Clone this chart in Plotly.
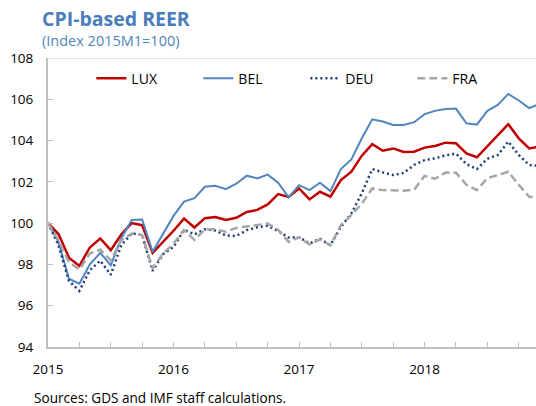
import plotly.graph_objects as go

# ---- data ----
months = [f"{y}M{m}" for y in range(2015, 2019) for m in range(1, 13)]
lux = [100.0, 99.47, 98.33, 97.93, 98.82, 99.26, 98.69, 99.45, 100.0, 99.9, 98.56, 99.09,
       99.63, 100.22, 99.79, 100.24, 100.3, 100.15, 100.26, 100.54, 100.64, 100.91, 101.41, 101.27,
       101.68, 101.15, 101.52, 101.28, 102.09, 102.49, 103.27, 103.83, 103.51, 103.62, 103.45, 103.46,
       103.66, 103.74, 103.9, 103.87, 103.38, 103.19, 103.72, 104.25, 104.79, 104.11, 103.62, 103.7]
bel = [100.0, 99.09, 97.31, 97.07, 98.01, 98.56, 97.96, 99.26, 100.15, 100.18, 98.61, 99.45,
       100.35, 101.04, 101.21, 101.76, 101.81, 101.65, 101.91, 102.3, 102.17, 102.35, 101.96, 101.25,
       101.84, 101.6, 101.96, 101.55, 102.62, 103.09, 104.11, 105.03, 104.92, 104.76, 104.76, 104.89,
       105.28, 105.44, 105.53, 105.55, 104.84, 104.77, 105.44, 105.73, 106.26, 105.94, 105.57, 105.78]
deu = [100.0, 98.93, 97.2, 96.72, 97.72, 98.18, 97.5, 98.93, 99.5, 99.42, 97.69, 98.5,
       98.85, 99.67, 99.46, 99.7, 99.64, 99.4, 99.38, 99.66, 99.8, 99.87, 99.62, 99.3,
       99.32, 99.01, 99.24, 98.93, 99.82, 100.47, 101.45, 102.62, 102.46, 102.33, 102.43, 102.82,
       103.05, 103.14, 103.28, 103.37, 102.86, 102.62, 103.12, 103.3, 103.95, 103.3, 102.82, 102.77]
fra = [100.0, 99.17, 98.12, 97.75, 98.53, 98.72, 98.2, 99.17, 99.5, 99.42, 97.8, 98.53,
       99.0, 99.66, 99.19, 99.7, 99.7, 99.58, 99.77, 99.85, 99.92, 99.98, 99.68, 99.09,
       99.32, 98.96, 99.21, 98.92, 99.9, 100.39, 100.95, 101.68, 101.6, 101.57, 101.57, 101.62,
       102.29, 102.15, 102.45, 102.44, 101.86, 101.6, 102.18, 102.33, 102.49, 101.86, 101.28, 101.23]
y_ticks = [94, 96, 98, 100, 102, 104, 106, 108]

FONT = "Open Sans"
W, H = 536, 406
ML, MR, MT, MB = 47.6, 0, 58.3, 59.3
PW, PH = W - ML - MR, H - MT - MB


def px(xp):
    return (xp - ML) / PW


def py(yp):
    return (H - MB - yp) / PH


x = list(range(len(months)))

fig = go.Figure()
fig.add_trace(go.Scatter(x=x, y=lux, name="LUX", mode="lines",
                         line=dict(color="#C00000", width=2.5)))
fig.add_trace(go.Scatter(x=x, y=bel, name="BEL", mode="lines",
                         line=dict(color="#4F86BD", width=2)))
fig.add_trace(go.Scatter(x=x, y=deu, name="DEU", mode="lines",
                         line=dict(color="#1F3A78", width=2.5, dash="2px,3px")))
fig.add_trace(go.Scatter(x=x, y=fra, name="FRA", mode="lines",
                         line=dict(color="#A6A6A6", width=2.5, dash="8px,4px")))

tickvals = list(range(0, len(months), 3))
ticktext = [months[i][:4] if months[i].endswith("M1") else "" for i in tickvals]

fig.update_layout(
    width=W, height=H,
    margin=dict(l=ML, r=MR, t=MT, b=MB),
    paper_bgcolor="white", plot_bgcolor="white",
    font=dict(family=FONT, size=13.5, color="black"),
    showlegend=True,
    legend=dict(orientation="h", x=px(91), y=py(79), xanchor="left", yanchor="middle",
                font=dict(size=14, color="black"), entrywidth=62, bgcolor="rgba(0,0,0,0)"),
    xaxis=dict(range=[0, 46.65], tickmode="array", tickvals=tickvals, ticktext=ticktext,
               showgrid=False, zeroline=False, showline=True, linecolor="#BFBFBF", linewidth=2,
               ticks="inside", ticklen=5, tickcolor="#BFBFBF", tickwidth=1,
               tickfont=dict(size=13.5, color="black"), ticklabelstandoff=9),
    yaxis=dict(range=[94, 108], tickmode="array", tickvals=y_ticks,
               showgrid=False, zeroline=False, showline=True, linecolor="#BFBFBF", linewidth=2,
               ticks="inside", ticklen=5, tickcolor="#BFBFBF", tickwidth=1,
               tickfont=dict(size=13.5, color="black"), ticklabelstandoff=10),
    shapes=[dict(type="line", xref="paper", yref="y", x0=0, x1=1, y0=108, y1=108,
                 line=dict(color="#D9D9D9", width=1.5))],
    annotations=[
        dict(text="<b>CPI-based REER</b>", xref="paper", yref="paper", x=px(40), y=py(19),
             xanchor="left", yanchor="middle", showarrow=False,
             font=dict(family=FONT, size=19.5, color="#4A7EBB")),
        dict(text="(Index 2015M1=100)", xref="paper", yref="paper", x=px(40), y=py(41),
             xanchor="left", yanchor="middle", showarrow=False,
             font=dict(family=FONT, size=14.5, color="#4F86BD")),
        dict(text="Sources: GDS and IMF staff calculations.", xref="paper", yref="paper",
             x=px(32), y=py(397), xanchor="left", yanchor="middle", showarrow=False,
             font=dict(family=FONT, size=13.6, color="black")),
    ],
)

fig.write_html("out.html", config={"displayModeBar": False},
               post_script="document.body.style.margin='0px';")
